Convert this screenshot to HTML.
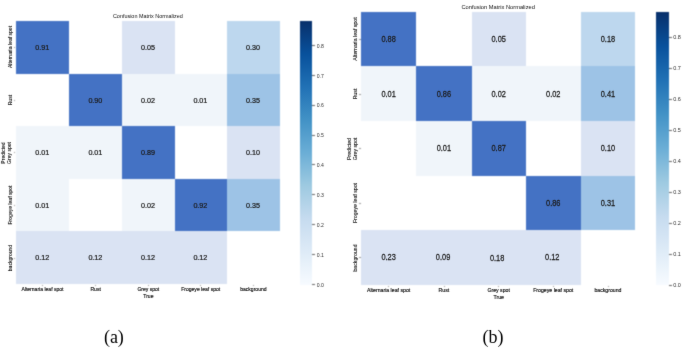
<!DOCTYPE html>
<html><head><meta charset="utf-8"><style>
*{margin:0;padding:0;box-sizing:border-box}
html,body{width:685px;height:349px;background:#fff;overflow:hidden;position:relative}
body{font-family:"Liberation Sans",sans-serif;color:#333}
#w{position:absolute;left:0;top:0;width:685px;height:349px;background:#fff;filter:url(#fb)}
#f{position:absolute;left:0;top:0;width:685px;height:349px;filter:url(#fb2)}
.c,.a,.t,.yl,.xl,.tk,.cb,.cl,.cap{position:absolute}
.a{color:#1c1c1c;-webkit-text-stroke:0.22px #1c1c1c;white-space:nowrap;line-height:1}
.t{transform:translate(-50%,-50%);white-space:nowrap;line-height:1;color:#111}
.yl{transform:translate(-50%,-50%) rotate(-90deg);white-space:nowrap;line-height:1;color:#111;-webkit-text-stroke:0.1px #111}
.xl{transform:translate(-50%,0);white-space:nowrap;line-height:1;color:#111;-webkit-text-stroke:0.15px #111}
.cl{transform:translate(0,-50%);white-space:nowrap;line-height:1;color:#333}
.tk{background:#666}
.tk2{position:absolute;background:#999}
.cap{font-family:"Liberation Serif",serif;font-size:18px;line-height:1;color:#000;white-space:nowrap}
</style></head><body>
<svg width="0" height="0" style="position:absolute"><filter id="fb" x="0" y="0" width="100%" height="100%" color-interpolation-filters="sRGB"><feConvolveMatrix order="3" kernelMatrix="0.03607 0.11778 0.03607 0.11778 0.38462 0.11778 0.03607 0.11778 0.03607" divisor="1" edgeMode="duplicate"/></filter><filter id="fb2" x="0" y="0" width="100%" height="100%" color-interpolation-filters="sRGB"><feConvolveMatrix order="3" kernelMatrix="0.00524 0.06192 0.00524 0.06192 0.73137 0.06192 0.00524 0.06192 0.00524" divisor="1" edgeMode="none"/></filter></svg>
<div id="w">
<div class="c" style="left:15.70px;top:20.50px;width:53.50px;height:53.00px;background:#4472C4"></div>
<div class="c" style="left:122.15px;top:20.50px;width:52.40px;height:53.00px;background:#DAE3F3"></div>
<div class="c" style="left:226.80px;top:20.50px;width:53.20px;height:53.00px;background:#BDD7EE"></div>
<div class="c" style="left:69.20px;top:73.50px;width:52.95px;height:52.85px;background:#4472C4"></div>
<div class="c" style="left:122.15px;top:73.50px;width:52.40px;height:52.85px;background:#F0F5FA"></div>
<div class="c" style="left:174.55px;top:73.50px;width:52.25px;height:52.85px;background:#F0F5FA"></div>
<div class="c" style="left:226.80px;top:73.50px;width:53.20px;height:52.85px;background:#9DC3E6"></div>
<div class="c" style="left:15.70px;top:126.35px;width:53.50px;height:52.75px;background:#F0F5FA"></div>
<div class="c" style="left:69.20px;top:126.35px;width:52.95px;height:52.75px;background:#F0F5FA"></div>
<div class="c" style="left:122.15px;top:126.35px;width:52.40px;height:52.75px;background:#4472C4"></div>
<div class="c" style="left:226.80px;top:126.35px;width:53.20px;height:52.75px;background:#DAE3F3"></div>
<div class="c" style="left:15.70px;top:179.10px;width:53.50px;height:52.25px;background:#F0F5FA"></div>
<div class="c" style="left:122.15px;top:179.10px;width:52.40px;height:52.25px;background:#F0F5FA"></div>
<div class="c" style="left:174.55px;top:179.10px;width:52.25px;height:52.25px;background:#4472C4"></div>
<div class="c" style="left:226.80px;top:179.10px;width:53.20px;height:52.25px;background:#9DC3E6"></div>
<div class="c" style="left:15.70px;top:231.35px;width:53.50px;height:53.00px;background:#DAE3F3"></div>
<div class="c" style="left:69.20px;top:231.35px;width:52.95px;height:53.00px;background:#DAE3F3"></div>
<div class="c" style="left:122.15px;top:231.35px;width:52.40px;height:53.00px;background:#DAE3F3"></div>
<div class="c" style="left:174.55px;top:231.35px;width:52.25px;height:53.00px;background:#DAE3F3"></div>
<div class="tk2" style="left:14.10px;top:46.70px;width:1.2px;height:0.6px"></div>
<div class="tk2" style="left:14.10px;top:99.62px;width:1.2px;height:0.6px"></div>
<div class="tk2" style="left:14.10px;top:152.42px;width:1.2px;height:0.6px"></div>
<div class="tk2" style="left:14.10px;top:204.92px;width:1.2px;height:0.6px"></div>
<div class="tk2" style="left:14.10px;top:257.55px;width:1.2px;height:0.6px"></div>
<div class="tk2" style="left:42.15px;top:284.75px;width:0.6px;height:1.2px"></div>
<div class="tk2" style="left:95.38px;top:284.75px;width:0.6px;height:1.2px"></div>
<div class="tk2" style="left:148.05px;top:284.75px;width:0.6px;height:1.2px"></div>
<div class="tk2" style="left:200.38px;top:284.75px;width:0.6px;height:1.2px"></div>
<div class="tk2" style="left:253.10px;top:284.75px;width:0.6px;height:1.2px"></div>
<div class="cb" style="left:299.5px;top:20.7px;width:12.80px;height:264.30px;background:linear-gradient(to top,#f7fbff,#deebf7,#c6dbef,#9ecae1,#6baed6,#4292c6,#2171b5,#08519c,#08306b)"></div>
<div class="tk" style="left:312.10px;top:283.85px;width:3px;height:0.8px"></div>
<div class="tk" style="left:312.10px;top:253.99px;width:3px;height:0.8px"></div>
<div class="tk" style="left:312.10px;top:224.13px;width:3px;height:0.8px"></div>
<div class="tk" style="left:312.10px;top:194.27px;width:3px;height:0.8px"></div>
<div class="tk" style="left:312.10px;top:164.41px;width:3px;height:0.8px"></div>
<div class="tk" style="left:312.10px;top:134.55px;width:3px;height:0.8px"></div>
<div class="tk" style="left:312.10px;top:104.69px;width:3px;height:0.8px"></div>
<div class="tk" style="left:312.10px;top:74.83px;width:3px;height:0.8px"></div>
<div class="tk" style="left:312.10px;top:44.97px;width:3px;height:0.8px"></div>
<div class="c" style="left:361.00px;top:11.50px;width:55.25px;height:54.85px;background:#4472C4"></div>
<div class="c" style="left:471.50px;top:11.50px;width:54.40px;height:54.85px;background:#DAE3F3"></div>
<div class="c" style="left:580.60px;top:11.50px;width:54.70px;height:54.85px;background:#BDD7EE"></div>
<div class="c" style="left:361.00px;top:66.35px;width:55.25px;height:54.92px;background:#F0F5FA"></div>
<div class="c" style="left:416.25px;top:66.35px;width:55.25px;height:54.92px;background:#4472C4"></div>
<div class="c" style="left:471.50px;top:66.35px;width:54.40px;height:54.92px;background:#F0F5FA"></div>
<div class="c" style="left:525.90px;top:66.35px;width:54.70px;height:54.92px;background:#F0F5FA"></div>
<div class="c" style="left:580.60px;top:66.35px;width:54.70px;height:54.92px;background:#9DC3E6"></div>
<div class="c" style="left:416.25px;top:121.27px;width:55.25px;height:54.68px;background:#F0F5FA"></div>
<div class="c" style="left:471.50px;top:121.27px;width:54.40px;height:54.68px;background:#4472C4"></div>
<div class="c" style="left:580.60px;top:121.27px;width:54.70px;height:54.68px;background:#DAE3F3"></div>
<div class="c" style="left:525.90px;top:175.95px;width:54.70px;height:54.40px;background:#4472C4"></div>
<div class="c" style="left:580.60px;top:175.95px;width:54.70px;height:54.40px;background:#9DC3E6"></div>
<div class="c" style="left:361.00px;top:230.35px;width:55.25px;height:54.75px;background:#DAE3F3"></div>
<div class="c" style="left:416.25px;top:230.35px;width:55.25px;height:54.75px;background:#DAE3F3"></div>
<div class="c" style="left:471.50px;top:230.35px;width:54.40px;height:54.75px;background:#DAE3F3"></div>
<div class="c" style="left:525.90px;top:230.35px;width:54.70px;height:54.75px;background:#DAE3F3"></div>
<div class="tk2" style="left:359.40px;top:38.62px;width:1.2px;height:0.6px"></div>
<div class="tk2" style="left:359.40px;top:93.51px;width:1.2px;height:0.6px"></div>
<div class="tk2" style="left:359.40px;top:148.31px;width:1.2px;height:0.6px"></div>
<div class="tk2" style="left:359.40px;top:202.85px;width:1.2px;height:0.6px"></div>
<div class="tk2" style="left:359.40px;top:257.43px;width:1.2px;height:0.6px"></div>
<div class="tk2" style="left:388.32px;top:285.50px;width:0.6px;height:1.2px"></div>
<div class="tk2" style="left:443.57px;top:285.50px;width:0.6px;height:1.2px"></div>
<div class="tk2" style="left:498.40px;top:285.50px;width:0.6px;height:1.2px"></div>
<div class="tk2" style="left:552.95px;top:285.50px;width:0.6px;height:1.2px"></div>
<div class="tk2" style="left:607.65px;top:285.50px;width:0.6px;height:1.2px"></div>
<div class="cb" style="left:655.7px;top:11.7px;width:13.50px;height:273.60px;background:linear-gradient(to top,#f7fbff,#deebf7,#c6dbef,#9ecae1,#6baed6,#4292c6,#2171b5,#08519c,#08306b)"></div>
<div class="tk" style="left:669.00px;top:284.60px;width:3px;height:0.8px"></div>
<div class="tk" style="left:669.00px;top:253.64px;width:3px;height:0.8px"></div>
<div class="tk" style="left:669.00px;top:222.68px;width:3px;height:0.8px"></div>
<div class="tk" style="left:669.00px;top:191.72px;width:3px;height:0.8px"></div>
<div class="tk" style="left:669.00px;top:160.76px;width:3px;height:0.8px"></div>
<div class="tk" style="left:669.00px;top:129.80px;width:3px;height:0.8px"></div>
<div class="tk" style="left:669.00px;top:98.84px;width:3px;height:0.8px"></div>
<div class="tk" style="left:669.00px;top:67.88px;width:3px;height:0.8px"></div>
<div class="tk" style="left:669.00px;top:36.92px;width:3px;height:0.8px"></div>
</div><div id="f">
<div class="a" style="left:42.15px;top:46.60px;font-size:7.2px;transform:translate(-50%,-50%) scaleY(1.09)">0.91</div>
<div class="a" style="left:148.05px;top:46.60px;font-size:7.2px;transform:translate(-50%,-50%) scaleY(1.09)">0.05</div>
<div class="a" style="left:253.10px;top:46.60px;font-size:7.2px;transform:translate(-50%,-50%) scaleY(1.09)">0.30</div>
<div class="a" style="left:95.38px;top:99.52px;font-size:7.2px;transform:translate(-50%,-50%) scaleY(1.09)">0.90</div>
<div class="a" style="left:148.05px;top:99.52px;font-size:7.2px;transform:translate(-50%,-50%) scaleY(1.09)">0.02</div>
<div class="a" style="left:200.38px;top:99.52px;font-size:7.2px;transform:translate(-50%,-50%) scaleY(1.09)">0.01</div>
<div class="a" style="left:253.10px;top:99.52px;font-size:7.2px;transform:translate(-50%,-50%) scaleY(1.09)">0.35</div>
<div class="a" style="left:42.15px;top:152.32px;font-size:7.2px;transform:translate(-50%,-50%) scaleY(1.09)">0.01</div>
<div class="a" style="left:95.38px;top:152.32px;font-size:7.2px;transform:translate(-50%,-50%) scaleY(1.09)">0.01</div>
<div class="a" style="left:148.05px;top:152.32px;font-size:7.2px;transform:translate(-50%,-50%) scaleY(1.09)">0.89</div>
<div class="a" style="left:253.10px;top:152.32px;font-size:7.2px;transform:translate(-50%,-50%) scaleY(1.09)">0.10</div>
<div class="a" style="left:42.15px;top:204.82px;font-size:7.2px;transform:translate(-50%,-50%) scaleY(1.09)">0.01</div>
<div class="a" style="left:148.05px;top:204.82px;font-size:7.2px;transform:translate(-50%,-50%) scaleY(1.09)">0.02</div>
<div class="a" style="left:200.38px;top:204.82px;font-size:7.2px;transform:translate(-50%,-50%) scaleY(1.09)">0.92</div>
<div class="a" style="left:253.10px;top:204.82px;font-size:7.2px;transform:translate(-50%,-50%) scaleY(1.09)">0.35</div>
<div class="a" style="left:42.15px;top:257.45px;font-size:7.2px;transform:translate(-50%,-50%) scaleY(1.09)">0.12</div>
<div class="a" style="left:95.38px;top:257.45px;font-size:7.2px;transform:translate(-50%,-50%) scaleY(1.09)">0.12</div>
<div class="a" style="left:148.05px;top:257.45px;font-size:7.2px;transform:translate(-50%,-50%) scaleY(1.09)">0.12</div>
<div class="a" style="left:200.38px;top:257.45px;font-size:7.2px;transform:translate(-50%,-50%) scaleY(1.09)">0.12</div>
<div class="t" style="left:147.85px;top:16.90px;font-size:5.45px">Confusion Matrix Normalized</div>
<div class="yl" style="left:11.10px;top:47.00px;font-size:5.05px">Alternaria leaf spot</div>
<div class="yl" style="left:11.10px;top:99.92px;font-size:5.05px">Rust</div>
<div class="yl" style="left:10.20px;top:152.72px;font-size:5.05px">Grey spot</div>
<div class="yl" style="left:4.20px;top:152.72px;font-size:5.05px">Predicted</div>
<div class="yl" style="left:11.10px;top:205.22px;font-size:5.05px">Frogeye leaf spot</div>
<div class="yl" style="left:11.10px;top:257.85px;font-size:5.05px">background</div>
<div class="xl" style="left:42.45px;top:287.35px;font-size:5.05px">Alternaria leaf spot</div>
<div class="xl" style="left:95.68px;top:287.35px;font-size:5.05px">Rust</div>
<div class="xl" style="left:148.35px;top:287.35px;font-size:5.05px">Grey spot</div>
<div class="xl" style="left:148.35px;top:293.95px;font-size:5.05px">True</div>
<div class="xl" style="left:200.68px;top:287.35px;font-size:5.05px">Frogeye leaf spot</div>
<div class="xl" style="left:253.40px;top:287.35px;font-size:5.05px">background</div>
<div class="cl" style="left:316.70px;top:285.55px;font-size:5.1px">0.0</div>
<div class="cl" style="left:316.70px;top:255.69px;font-size:5.1px">0.1</div>
<div class="cl" style="left:316.70px;top:225.83px;font-size:5.1px">0.2</div>
<div class="cl" style="left:316.70px;top:195.97px;font-size:5.1px">0.3</div>
<div class="cl" style="left:316.70px;top:166.11px;font-size:5.1px">0.4</div>
<div class="cl" style="left:316.70px;top:136.25px;font-size:5.1px">0.5</div>
<div class="cl" style="left:316.70px;top:106.39px;font-size:5.1px">0.6</div>
<div class="cl" style="left:316.70px;top:76.53px;font-size:5.1px">0.7</div>
<div class="cl" style="left:316.70px;top:46.67px;font-size:5.1px">0.8</div>
<div class="a" style="left:388.62px;top:38.62px;font-size:7.4px;transform:translate(-50%,-50%) scaleY(1.16)">0.88</div>
<div class="a" style="left:498.70px;top:38.62px;font-size:7.4px;transform:translate(-50%,-50%) scaleY(1.16)">0.05</div>
<div class="a" style="left:607.95px;top:38.62px;font-size:7.4px;transform:translate(-50%,-50%) scaleY(1.16)">0.18</div>
<div class="a" style="left:388.62px;top:93.51px;font-size:7.4px;transform:translate(-50%,-50%) scaleY(1.16)">0.01</div>
<div class="a" style="left:443.88px;top:93.51px;font-size:7.4px;transform:translate(-50%,-50%) scaleY(1.16)">0.86</div>
<div class="a" style="left:498.70px;top:93.51px;font-size:7.4px;transform:translate(-50%,-50%) scaleY(1.16)">0.02</div>
<div class="a" style="left:553.25px;top:93.51px;font-size:7.4px;transform:translate(-50%,-50%) scaleY(1.16)">0.02</div>
<div class="a" style="left:607.95px;top:93.51px;font-size:7.4px;transform:translate(-50%,-50%) scaleY(1.16)">0.41</div>
<div class="a" style="left:443.88px;top:148.31px;font-size:7.4px;transform:translate(-50%,-50%) scaleY(1.16)">0.01</div>
<div class="a" style="left:498.70px;top:148.31px;font-size:7.4px;transform:translate(-50%,-50%) scaleY(1.16)">0.87</div>
<div class="a" style="left:607.95px;top:148.31px;font-size:7.4px;transform:translate(-50%,-50%) scaleY(1.16)">0.10</div>
<div class="a" style="left:553.25px;top:202.85px;font-size:7.4px;transform:translate(-50%,-50%) scaleY(1.16)">0.86</div>
<div class="a" style="left:607.95px;top:202.85px;font-size:7.4px;transform:translate(-50%,-50%) scaleY(1.16)">0.31</div>
<div class="a" style="left:388.62px;top:257.43px;font-size:7.4px;transform:translate(-50%,-50%) scaleY(1.16)">0.23</div>
<div class="a" style="left:443.07px;top:257.43px;font-size:7.4px;transform:translate(-50%,-50%) scaleY(1.16)">0.09</div>
<div class="a" style="left:497.10px;top:257.62px;font-size:7.4px;transform:translate(-50%,-50%) scaleY(1.16)">0.18</div>
<div class="a" style="left:552.25px;top:257.43px;font-size:7.4px;transform:translate(-50%,-50%) scaleY(1.16)">0.12</div>
<div class="t" style="left:498.15px;top:7.60px;font-size:5.73px">Confusion Matrix Normalized</div>
<div class="yl" style="left:355.80px;top:38.92px;font-size:5.2px">Alternaria leaf spot</div>
<div class="yl" style="left:355.80px;top:93.81px;font-size:5.2px">Rust</div>
<div class="yl" style="left:355.50px;top:148.61px;font-size:5.2px">Grey spot</div>
<div class="yl" style="left:349.50px;top:148.61px;font-size:5.2px">Predicted</div>
<div class="yl" style="left:355.80px;top:203.15px;font-size:5.2px">Frogeye leaf spot</div>
<div class="yl" style="left:355.80px;top:257.73px;font-size:5.2px">background</div>
<div class="xl" style="left:388.62px;top:288.10px;font-size:5.2px">Alternaria leaf spot</div>
<div class="xl" style="left:443.88px;top:288.10px;font-size:5.2px">Rust</div>
<div class="xl" style="left:498.70px;top:288.10px;font-size:5.2px">Grey spot</div>
<div class="xl" style="left:498.70px;top:294.70px;font-size:5.2px">True</div>
<div class="xl" style="left:553.25px;top:288.10px;font-size:5.2px">Frogeye leaf spot</div>
<div class="xl" style="left:607.95px;top:288.10px;font-size:5.2px">background</div>
<div class="cl" style="left:673.20px;top:286.00px;font-size:5.5px">0.0</div>
<div class="cl" style="left:673.20px;top:255.04px;font-size:5.5px">0.1</div>
<div class="cl" style="left:673.20px;top:224.08px;font-size:5.5px">0.2</div>
<div class="cl" style="left:673.20px;top:193.12px;font-size:5.5px">0.3</div>
<div class="cl" style="left:673.20px;top:162.16px;font-size:5.5px">0.4</div>
<div class="cl" style="left:673.20px;top:131.20px;font-size:5.5px">0.5</div>
<div class="cl" style="left:673.20px;top:100.24px;font-size:5.5px">0.6</div>
<div class="cl" style="left:673.20px;top:69.28px;font-size:5.5px">0.7</div>
<div class="cl" style="left:673.20px;top:38.32px;font-size:5.5px">0.8</div>
<div class="cap" style="left:103.9px;top:328.3px">(a)</div>
<div class="cap" style="left:482.6px;top:328.2px">(b)</div>
</div></body></html>
